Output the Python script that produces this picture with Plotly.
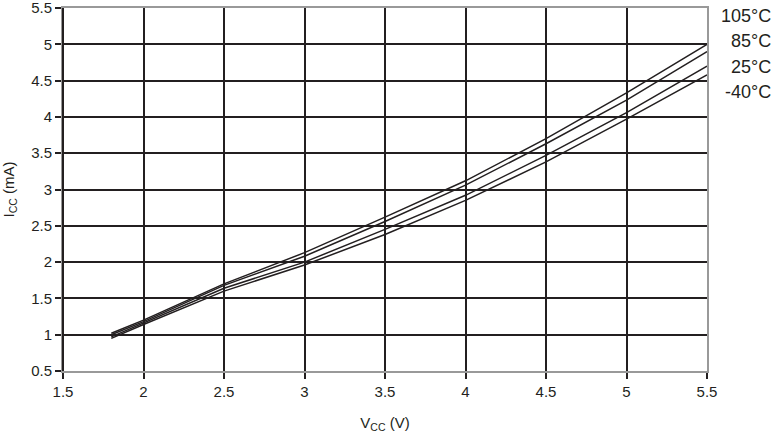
import plotly.graph_objects as go

vcc = [1.8, 2.0, 2.5, 3.0, 3.5, 4.0, 4.5, 5.0, 5.5]
icc_105 = [1.02, 1.20, 1.70, 2.13, 2.62, 3.12, 3.70, 4.33, 5.00]
icc_85 = [1.00, 1.18, 1.68, 2.08, 2.56, 3.06, 3.63, 4.23, 4.90]
icc_25 = [0.97, 1.16, 1.64, 2.00, 2.45, 2.92, 3.47, 4.06, 4.70]
icc_m40 = [0.95, 1.14, 1.60, 1.96, 2.38, 2.85, 3.38, 3.97, 4.58]
series = [("105°C", icc_105), ("85°C", icc_85), ("25°C", icc_25), ("-40°C", icc_m40)]

x_ticks = [1.5, 2, 2.5, 3, 3.5, 4, 4.5, 5, 5.5]
y_ticks = [0.5, 1, 1.5, 2, 2.5, 3, 3.5, 4, 4.5, 5, 5.5]

W, H = 776, 435
ML, MR, MT, MB = 63, 69, 8, 64
PW, PH = W - ML - MR, H - MT - MB

fig = go.Figure()
for name, ys in series:
    fig.add_trace(go.Scatter(x=vcc, y=ys, mode="lines", name=name,
                             line=dict(color="#231f20", width=1.5), showlegend=False))

label_y = [16, 41, 67, 92]
for (name, _), py in zip(series, label_y):
    fig.add_annotation(x=(773 - ML) / PW, y=(H - MB - py) / PH, xref="paper", yref="paper",
                       text=name, showarrow=False, xanchor="right", yanchor="middle",
                       font=dict(size=18, color="#231f20", family="Liberation Sans, Arial"))

fig.update_layout(
    width=W, height=H,
    margin=dict(l=ML, r=MR, t=MT, b=MB, autoexpand=False),
    paper_bgcolor="white", plot_bgcolor="white",
    font=dict(family="Liberation Sans, Arial", size=15, color="#231f20"),
    xaxis=dict(range=[1.5, 5.5], tickvals=x_ticks, ticktext=[f"{v:g}" for v in x_ticks],
               showgrid=True, gridcolor="#231f20", gridwidth=2,
               showline=True, linecolor="#999999", linewidth=2, mirror=True,
               ticks="outside", ticklen=6, tickcolor="#231f20", tickwidth=1.5,
               zeroline=False, automargin=False, ticklabeloverflow="allow",
               title=dict(text="V<sub>CC</sub> (V)", font=dict(size=15), standoff=18)),
    yaxis=dict(range=[0.5, 5.5], tickvals=y_ticks, ticktext=[f"{v:g}" for v in y_ticks],
               showgrid=True, gridcolor="#231f20", gridwidth=2,
               showline=True, linecolor="#999999", linewidth=2, mirror=True,
               ticks="outside", ticklen=6, tickcolor="#231f20", tickwidth=1.5,
               zeroline=False, automargin=False, ticklabeloverflow="allow",
               title=dict(text="I<sub>CC</sub> (mA)", font=dict(size=15), standoff=14)),
)
fig.add_shape(type="line", xref="paper", yref="paper", x0=0, x1=0, y0=0, y1=1,
              line=dict(color="#231f20", width=2), layer="above")

fig.write_html("out.html", config={"displayModeBar": False})
with open("out.html", encoding="utf-8") as f:
    html = f.read()
html = html.replace("<head>", "<head><style>html,body{margin:0;padding:0;overflow:hidden;}</style>", 1)
with open("out.html", "w", encoding="utf-8") as f:
    f.write(html)
